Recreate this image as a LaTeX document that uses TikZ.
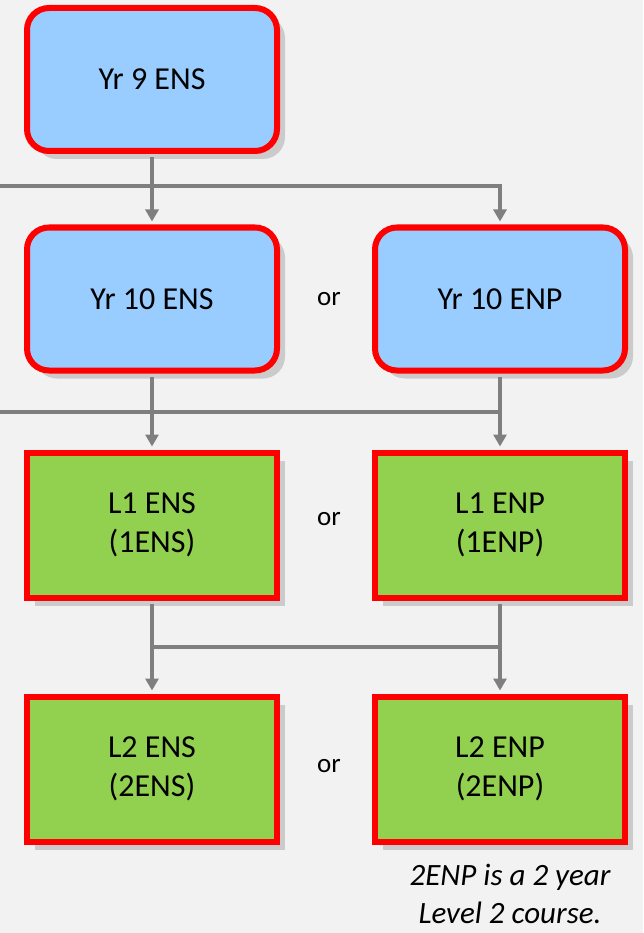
\documentclass[tikz,border=0pt]{standalone}
\usepackage{fontspec}
\setmainfont{Carlito}
\usepackage{tikz}
\usetikzlibrary{arrows.meta, shadows}
\definecolor{yrBlue}{HTML}{99CCFF}
\definecolor{lvGreen}{HTML}{92D050}
\definecolor{boxRed}{HTML}{FF0000}
\definecolor{lineGrey}{HTML}{7F7F7F}
\definecolor{shadowGrey}{HTML}{CBCBCB}
\definecolor{pageGrey}{HTML}{F2F2F2}
\tikzstyle{fYear} = [rectangle, rounded corners=22pt, minimum width=250pt, minimum height=143pt, text centered, draw=boxRed, line width=6pt, fill=yrBlue, font=\fontsize{32}{39}\selectfont, drop shadow={shadow xshift=8pt, shadow yshift=-8pt, fill=shadowGrey, opacity=1}]
\tikzstyle{fLevel} = [rectangle, minimum width=250pt, minimum height=145pt, text centered, align=center, draw=boxRed, line width=6pt, fill=lvGreen, font=\fontsize{32}{39}\selectfont, drop shadow={shadow xshift=8pt, shadow yshift=-8pt, fill=shadowGrey, opacity=1}]
\tikzstyle{fOr} = [font=\fontsize{27}{32}\selectfont]
\tikzstyle{fNote} = [align=center, font=\itshape\fontsize{31}{38}\selectfont]
\tikzstyle{fLine} = [line width=4pt, draw=lineGrey, shorten <=3pt]
\tikzstyle{fArrow} = [fLine, -{Triangle[length=12pt, width=13pt]}, shorten >=3pt]

\begin{document}
\begin{tikzpicture}[x=1pt, y=1pt, node distance=225pt]
    \fill [pageGrey] (0,0) rectangle (643,-933);
    \useasboundingbox (0,0) rectangle (643,-933);

    \node (yr9ens) [fYear] at (152,-79.5) {Yr 9 ENS};
    \node (yr10ens) [fYear, below of=yr9ens, yshift=5.5pt] {Yr 10 ENS};
    \node (yr10enp) [fYear, node distance=348pt, right of=yr10ens] {Yr 10 ENP};
    \node (or10) [fOr, node distance=177pt, right of=yr10ens] {or};
    \node (l1ens) [fLevel, below of=yr10ens, yshift=-1pt] {L1 ENS\\(1ENS)};
    \node (l1enp) [fLevel, node distance=348pt, right of=l1ens] {L1 ENP\\(1ENP)};
    \node (orl1) [fOr, node distance=177pt, right of=l1ens, yshift=6pt] {or};
    \node (l2ens) [fLevel, below of=l1ens, yshift=-19pt] {L2 ENS\\(2ENS)};
    \node (l2enp) [fLevel, node distance=348pt, right of=l2ens] {L2 ENP\\(2ENP)};
    \node (orl2) [fOr, node distance=177pt, right of=l2ens, yshift=3pt] {or};
    \node (note) [fNote, node distance=125pt, below of=l2enp, xshift=10pt] {2ENP is a 2 year\\Level 2 course.};

    % lines coming in from the left
    \coordinate (inyr10) at (0,-186);
    \coordinate (inl1) at (0,-412);
    \coordinate (joinl2) at (152,-647);

    \draw [fArrow] (yr9ens) -- (yr10ens);
    \draw [fArrow, shorten <=0pt] (inyr10) -| (yr10enp);
    \draw [fArrow] (yr10ens) -- (l1ens);
    \draw [fLine] (yr10enp) -- (yr10enp |- inl1);
    \draw [fArrow, shorten <=0pt] (inl1) -| (l1enp);
    \draw [fArrow] (l1ens) -- (l2ens);
    \draw [fArrow] (l1enp) -- (l2enp);
    \draw [fLine, shorten <=0pt] (joinl2) -- (l1enp |- joinl2);
\end{tikzpicture}
\end{document}
